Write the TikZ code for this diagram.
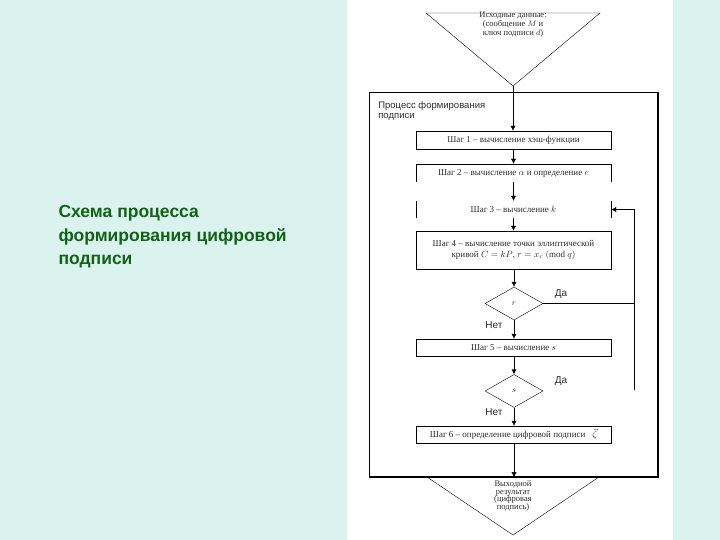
\documentclass[tikz,border=0pt]{standalone}
\usepackage{fontspec}
\setmainfont{Liberation Serif}
\setsansfont{Liberation Sans}
\usepackage{amsmath}
\usepackage{xcolor}
\usepackage{tikz}
\usetikzlibrary{
  arrows.meta,
  positioning,
  shapes.geometric,
  calc
}
\definecolor{slidebg}{RGB}{219,243,239}
\definecolor{headgreen}{RGB}{18,98,22}
\definecolor{inktext}{RGB}{45,45,45}

\begin{document}
\begin{tikzpicture}[x=1pt,y=-1pt,
  stepbox/.style ={draw,minimum width=195pt,minimum height=18pt,inner sep=1pt,
               font=\fontsize{9}{10.5}\selectfont,align=center,text=inktext},
  openbox/.style ={minimum width=195pt,minimum height=18pt,inner sep=1pt,
               font=\fontsize{9}{10.5}\selectfont,align=center,text=inktext},
  decision/.style={draw,diamond,aspect=1.75,minimum width=58pt,minimum height=33pt,
               inner sep=0pt,font=\fontsize{8}{9}\selectfont,text=inktext},
  answer/.style  ={font=\sffamily\fontsize{10}{11}\selectfont,text=inktext},
  termtext/.style={font=\fontsize{8.5}{9}\selectfont,align=center,text=inktext},
  fwd/.style     ={-{Latex[length=5pt,width=5pt]},thin,black},
]
\useasboundingbox (0,0) rectangle (720,540);
\fill[slidebg] (0,0) rectangle (720,540);
\fill[white] (347,0) rectangle (673,540);

\node[anchor=north west,align=left,text=headgreen,
      font=\sffamily\bfseries\fontsize{17.5}{23.5}\selectfont] (slidetitle) at (55,202)
  {Схема процесса\\формирования цифровой\\подписи};

% input and output terminals
\coordinate (inl)    at (426,13);
\coordinate (inr)    at (600,13);
\coordinate (inapex) at (513,86);
\draw (inl) -- (inr) -- (inapex) -- cycle;
\node[termtext] (indata) at (513,25)
  {Исходные данные:\\(сообщение $M$ и\\ключ подписи $d$)};

\node[draw,minimum width=289pt,minimum height=385pt,inner sep=0pt] (frame) at (513.5,284.5) {};
\draw[line width=2.5pt] (frame.south west) -- (frame.south east) -- (frame.north east);
\node[anchor=north west,align=left,text=inktext,
      font=\sffamily\fontsize{9.5}{10.5}\selectfont] (frametitle) at ([xshift=6pt,yshift=-6pt]frame.north west)
  {Процесс формирования\\подписи};

\coordinate (outl)    at (427,477);
\coordinate (outr)    at (599,477);
\coordinate (outapex) at (513,535);
\draw (outl) -- (outapex) -- (outr);
\node[termtext,font=\fontsize{8.5}{7.8}\selectfont] (outdata) at (513,496)
  {Выходной\\результат\\(цифровая\\подпись)};

% steps
\node[stepbox] (s1) at (513.5,140) {Шаг 1 -- вычисление хэш-функции};
\node[openbox] (s2) at (513.5,173) {Шаг 2 -- вычисление $\alpha$ и определение $e$};
\draw (s2.south west) -- (s2.north west) -- (s2.north east) -- (s2.south east);
\node[openbox,minimum height=17pt] (s3) at (513.5,209.5) {Шаг 3 -- вычисление $k$};
\draw (s3.north west) -- (s3.south west);
\draw (s3.north east) -- (s3.south east);
\node[stepbox,minimum height=38pt] (s4) at (513.5,250)
  {Шаг 4 -- вычисление точки эллиптической\\
   кривой $C=kP$, $r=x_c\ (\mathrm{mod}\ q)$};
\node[decision] (d1) at (514,303.5) {$r$};
\node[stepbox,minimum height=17pt] (s5) at (513.5,347.5) {Шаг 5 -- вычисление $s$};
\node[decision] (d2) at (514,391) {$s$};
\node[stepbox,minimum height=17pt] (s6) at (513.5,434.5)
  {Шаг 6 -- определение цифровой подписи\hspace{7pt}$\vec{\zeta}$};

\node[answer] (yes1) at (561,294) {Да};
\node[answer] (no1)  at (494,325) {Нет};
\node[answer] (yes2) at (561,381) {Да};
\node[answer] (no2)  at (494,412) {Нет};

% main flow
\draw[fwd] (inapex) -- (inapex |- s1.north);
\draw[fwd] (s1) -- (s2);
\draw[fwd] (s2) -- (s3);
\draw[fwd] (s3) -- (s4);
\draw[fwd] (s4.south) -- (s4.south -| d1.north) -- (d1.north);
\draw[fwd] (d1) -- (d1 |- s5.north);
\draw[fwd] (d1 |- s5.south) -- (d2);
\draw[fwd] (d2) -- (d2 |- s6.north);
\draw[fwd] (d2 |- s6.south) -- (d2 |- frame.south);

% return to step 3
\coordinate (fbbot) at (634,390);
\draw (d1.east) -- (d1.east -| fbbot);
\draw[fwd] (fbbot) -- (fbbot |- s3.east) -- (s3.east);
\end{tikzpicture}
\end{document}
